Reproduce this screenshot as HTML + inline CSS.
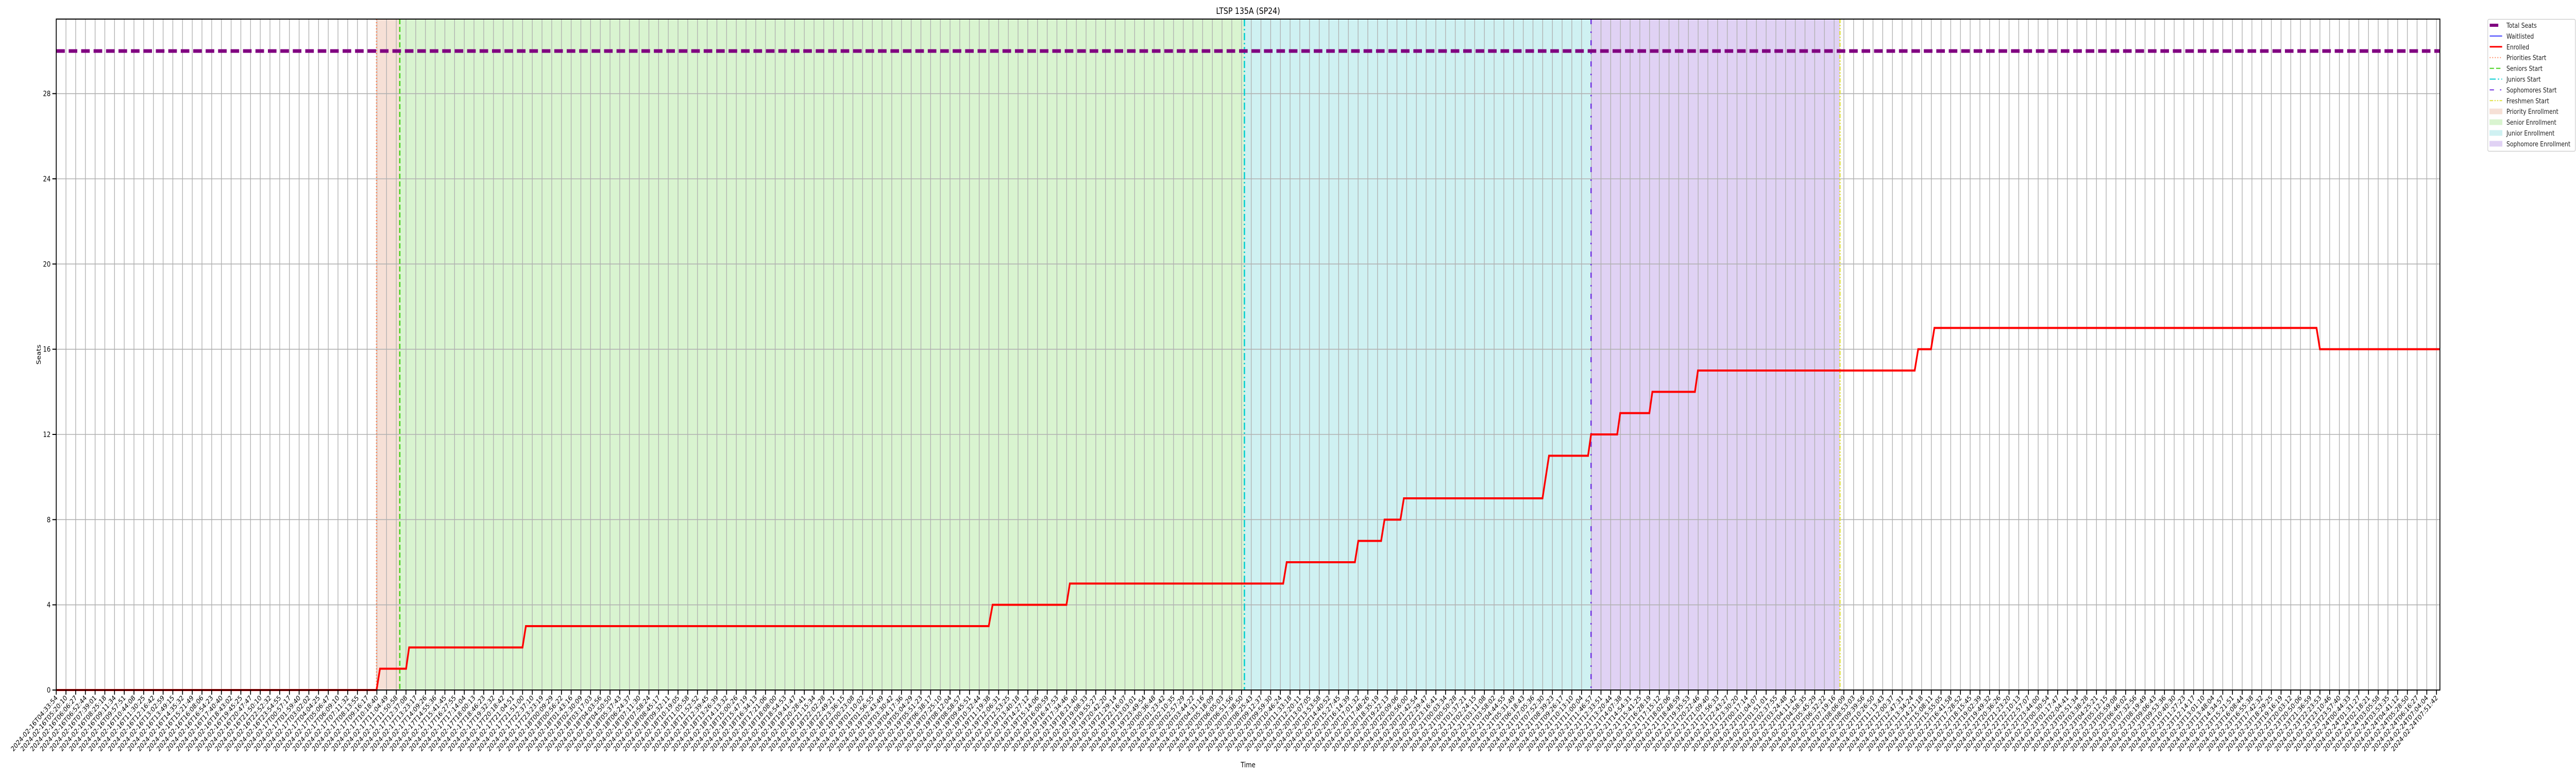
<!DOCTYPE html>
<html><head><meta charset="utf-8"><title>LTSP 135A (SP24)</title>
<style>html,body{margin:0;padding:0;background:#fff;width:100%;height:100%;overflow:hidden;}svg{display:block;width:100vw;height:100vh;overflow:hidden;font-family:"DejaVu Sans","Liberation Sans",sans-serif;}</style>
</head><body>
<svg id="chart" viewBox="0 0 6000 1500" preserveAspectRatio="none" xmlns="http://www.w3.org/2000/svg">
<g id="shades"></g><g id="grid"></g><g id="events"></g><g id="series"></g><g id="axes"></g><g id="legend"></g>
</svg>
<script>
// ---- data (x in tick-index units) ----
const enrolledX = [0, 32.97, 33.32, 36.01, 36.32, 47.99, 48.34, 95.98, 96.38, 103.98, 104.33, 126.29, 126.65, 133.67, 134.02, 136.37, 136.72, 138.36, 138.71, 152.98, 153.65, 157.67, 157.98, 160.67, 160.98, 163.98, 164.29, 168.67, 168.98, 191.29, 191.65, 192.97, 193.32, 232.65, 233.0, 245.35];
const enrolledY = [0, 0, 1, 1, 2, 2, 3, 3, 4, 4, 5, 5, 6, 6, 7, 7, 8, 8, 9, 9, 11, 11, 12, 12, 13, 13, 14, 14, 15, 15, 16, 16, 17, 17, 16, 16];
const totalSeats = 30;
const waitlistedX = [0, 245.35];
const waitlistedY = [0, 0];
const eventNames = ["Priorities Start", "Seniors Start", "Juniors Start", "Sophomores Start", "Freshmen Start"];
const eventX = [32.97, 35.36, 122.3, 157.98, 183.6];
const periodNames = ["Priority Enrollment", "Senior Enrollment", "Junior Enrollment", "Sophomore Enrollment"];
const periodStart = [32.97, 35.36, 122.3, 157.98];
const periodEnd = [35.36, 122.3, 157.98, 183.6];
const yTicks = [0, 4, 8, 12, 16, 20, 24, 28];
const labelAnchorIdx = [0, 17, 33, 51, 238, 245];
const labelAnchorTime = ["2024-02-16T04:33:54", "2024-02-16T17:40:40", "2024-02-17T10:18:40", "2024-02-18T00:09:29", "2024-02-24T02:18:21", "2024-02-24T07:51:42"];
const tickCount = 246;

// ---- layout ----
const L = 131, R = 5683, T = 37, B = 1339;
const xMax = 245.35, yMax = 31.5;
const sx = v => L + v / xMax * (R - L);
const sy = v => B - v / yMax * (B - T);
const NS = "http://www.w3.org/2000/svg";
function mk(tag, parent, attrs) {
  const e = document.createElementNS(NS, tag);
  for (const k in attrs) e.setAttribute(k, attrs[k]);
  parent.appendChild(e);
  return e;
}
const shadeColors = ["#f6e0d6", "#d9f4d0", "#cff1f2", "#e0d2f4"];
const shadeG = document.getElementById("shades");
periodStart.forEach((s, i) => {
  const r = mk("rect", shadeG, {x: sx(s), y: T, width: sx(periodEnd[i]) - sx(s), height: B - T, fill: shadeColors[i]});
  
  
});
// grid
const gridG = document.getElementById("grid");
for (let i = 0; i < tickCount; i++) {
  const l = mk("line", gridG, {x1: sx(i), x2: sx(i), y1: T, y2: B, stroke: "#b0b0b0", "stroke-width": 1.6});
  
  
}
yTicks.forEach(v => {
  const l = mk("line", gridG, {x1: L, x2: R, y1: sy(v), y2: sy(v), stroke: "#b0b0b0", "stroke-width": 1.6});
  
  
});
// event lines
const evColors = ["#ff7f50", "#44d11a", "#00ced1", "#7030e0", "#e0e040"];
const evDash = ["2,4", "10,5", "14,5,3,5", "10,14,3,14", "8,3,3,3,3,3"];
const evG = document.getElementById("events");
eventX.forEach((x, i) => {
  const l = mk("line", evG, {x1: sx(x), x2: sx(x), y1: T, y2: B, stroke: evColors[i], "stroke-width": 3, "stroke-dasharray": evDash[i]});
  
  
});
// series
const serG = document.getElementById("series");
const ts = mk("line", serG, {x1: L, x2: R, y1: sy(totalSeats), y2: sy(totalSeats), stroke: "#800080", "stroke-width": 7, "stroke-dasharray": "20,9"});


const wl = mk("polyline", serG, {points: waitlistedX.map((x, i) => sx(x) + "," + sy(waitlistedY[i])).join(" "), fill: "none", stroke: "#0000ff", "stroke-width": 2});


const en = mk("polyline", serG, {points: enrolledX.map((x, i) => sx(x) + "," + sy(enrolledY[i])).join(" "), fill: "none", stroke: "#ff0000", "stroke-width": 4, "stroke-linejoin": "miter"});


// axes
const axG = document.getElementById("axes");
const frame = mk("rect", axG, {x: L, y: T, width: R - L, height: B - T, fill: "none", stroke: "#000", "stroke-width": 2});


yTicks.forEach(v => {
  mk("line", axG, {x1: L - 9, x2: L, y1: sy(v), y2: sy(v), stroke: "#000", "stroke-width": 2});
  const t = mk("text", axG, {x: L - 13, y: sy(v) + 5, "text-anchor": "end", "font-size": 14, fill: "#000"});
  t.textContent = v;
  
  
});
function parseT(s) { return Date.UTC(+s.slice(0,4), +s.slice(5,7)-1, +s.slice(8,10), +s.slice(11,13), +s.slice(14,16), +s.slice(17,19)); }
function fmt(ms) { const d = new Date(ms); const p = n => String(n).padStart(2, "0");
  return d.getUTCFullYear() + "-" + p(d.getUTCMonth()+1) + "-" + p(d.getUTCDate()) + "T" + p(d.getUTCHours()) + ":" + p(d.getUTCMinutes()) + ":" + p(d.getUTCSeconds()); }
const anchorMs = labelAnchorTime.map(parseT);
function labelFor(i) {
  let k = 0; while (k < labelAnchorIdx.length - 2 && i > labelAnchorIdx[k+1]) k++;
  const a = labelAnchorIdx[k], b = labelAnchorIdx[k+1];
  return fmt(anchorMs[k] + (anchorMs[k+1] - anchorMs[k]) * (i - a) / (b - a));
}
for (let i = 0; i < tickCount; i++) {
  const x = sx(i);
  mk("line", axG, {x1: x, x2: x, y1: B, y2: B + 9, stroke: "#000", "stroke-width": 2});
  const t = mk("text", axG, {x: x + 4, y: B + 16, "text-anchor": "end", "font-size": 13.5, fill: "#000", transform: "rotate(-45 " + (x + 4) + " " + (B + 16) + ")"});
  t.textContent = labelFor(i);
  
  
}
const title = mk("text", axG, {x: (L + R) / 2, y: 27, "text-anchor": "middle", "font-size": 17, fill: "#000"});
title.textContent = "LTSP 135A (SP24)";


const xl = mk("text", axG, {x: (L + R) / 2, y: 1489, "text-anchor": "middle", "font-size": 14, fill: "#000"});
xl.textContent = "Time";


const yl = mk("text", axG, {x: 95, y: 688, "text-anchor": "middle", "font-size": 14, fill: "#000", transform: "rotate(-90 95 688)"});
yl.textContent = "Seats";


// legend
const lgG = document.getElementById("legend");
const box = mk("rect", lgG, {x: 5794.5, y: 37.5, width: 204, height: 256, rx: 3, fill: "#fff", stroke: "#d0d0d0", "stroke-width": 1.5});


const legNames = ["Total Seats", "Waitlisted", "Enrolled"].concat(eventNames, periodNames);
legNames.forEach((n, i) => {
  const y = 49 + i * 20.9;
  const g = mk("g", lgG, {});
  
  
  if (i === 0) mk("line", g, {x1: 5799, x2: 5819, y1: y, y2: y, stroke: "#800080", "stroke-width": 6});
  else if (i === 1) mk("line", g, {x1: 5799, x2: 5828, y1: y, y2: y, stroke: "#0000ff", "stroke-width": 1.5});
  else if (i === 2) mk("line", g, {x1: 5799, x2: 5828, y1: y, y2: y, stroke: "#ff0000", "stroke-width": 3});
  else if (i < 8) mk("line", g, {x1: 5799, x2: 5828, y1: y, y2: y, stroke: evColors[i-3], "stroke-width": 2, "stroke-dasharray": evDash[i-3]});
  else mk("rect", g, {x: 5799, y: y - 5, width: 29, height: 10, fill: shadeColors[i-8], stroke: shadeColors[i-8]});
  const t = mk("text", g, {x: 5838, y: y + 5, "font-size": 13, fill: "#222"});
  t.textContent = n;
});
</script>
</body></html>
